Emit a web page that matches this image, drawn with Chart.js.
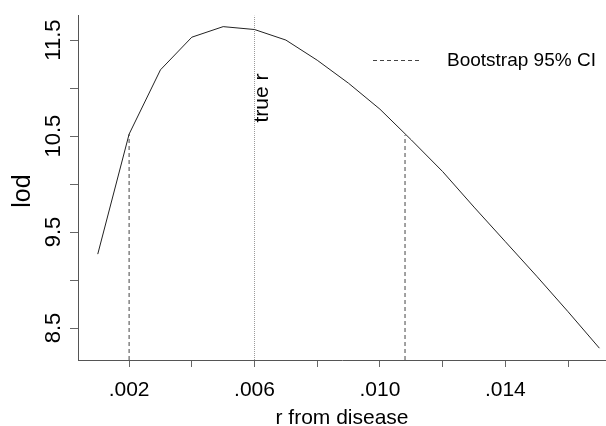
<!DOCTYPE html>
<html>
<head>
<meta charset="utf-8">
<script src="https://cdn.jsdelivr.net/npm/chart.js@4.4.0/dist/chart.umd.min.js"></script>
<style>
  html, body { margin: 0; padding: 0; background: #fff; }
  #wrap { width: 606px; height: 426px; }
</style>
</head>
<body>
<div id="wrap"><canvas id="grafico" width="606" height="426"></canvas></div>
<script>
const fonte = '"Liberation Sans", Arial, Helvetica, sans-serif';

// curva de lod
const rValores = [0.001, 0.002, 0.003, 0.004, 0.005, 0.006, 0.007, 0.008, 0.009,
                  0.010, 0.011, 0.012, 0.013, 0.014, 0.015, 0.016, 0.017];
const lodValores = [9.27, 10.52, 11.19, 11.53, 11.64, 11.61, 11.50, 11.29, 11.05,
                    10.78, 10.46, 10.13, 9.76, 9.40, 9.04, 8.67, 8.29];

// eixos
const xLimites = [0.00037, 0.01721];
const yLimites = [8.167, 11.755];
const xTicks = [0.002, 0.004, 0.006, 0.008, 0.010, 0.012, 0.014, 0.016];
const xRotulos = [0.002, 0.006, 0.010, 0.014];
const yTicks = [8.5, 9.0, 9.5, 10.0, 10.5, 11.0, 11.5];
const yRotulos = [8.5, 9.5, 10.5, 11.5];

// marcadores
const trueR = 0.006;
const ciLimites = [0.002, 0.0108];
const ciTopo = [10.52, 10.51];

const mesmo = (a, b) => Math.abs(a - b) < 1e-9;
const fmtR = (v) => v.toFixed(3).replace(/^0/, "");

const linhaCI = (i) => ({
  data: [{ x: ciLimites[i], y: yLimites[0] }, { x: ciLimites[i], y: ciTopo[i] }],
  borderColor: "#444",
  borderWidth: 1,
  borderDash: [4, 3],
  pointRadius: 0,
});

const textoGirado = (ctx, texto, x, y) => {
  ctx.save();
  ctx.translate(x, y);
  ctx.rotate(-Math.PI / 2);
  ctx.fillText(texto, 0, 0);
  ctx.restore();
};

const rotulosPlugin = {
  id: "rotulos",
  afterDraw(chart) {
    const { ctx, scales: { x, y } } = chart;
    ctx.save();
    ctx.fillStyle = "#000";
    ctx.textBaseline = "alphabetic";
    ctx.textAlign = "center";

    // rótulos do eixo y, girados
    ctx.font = "22px " + fonte;
    yRotulos.forEach((v) => textoGirado(ctx, v.toFixed(1), y.right - 18, y.getPixelForValue(v)));

    // título do eixo y
    ctx.font = "25px " + fonte;
    textoGirado(ctx, "lod", 30, 191);

    // true r
    ctx.font = "21px " + fonte;
    textoGirado(ctx, "true r", x.getPixelForValue(trueR) + 13, 98);

    // legenda
    ctx.strokeStyle = "#444";
    ctx.lineWidth = 1;
    ctx.setLineDash([4, 3]);
    ctx.beginPath();
    ctx.moveTo(373, 60.5);
    ctx.lineTo(422, 60.5);
    ctx.stroke();
    ctx.setLineDash([]);
    ctx.font = "19px " + fonte;
    ctx.textAlign = "left";
    ctx.fillText("Bootstrap 95% CI", 447, 66);
    ctx.restore();
  },
};

new Chart(document.getElementById("grafico"), {
  type: "line",
  data: {
    datasets: [
      {
        data: rValores.map((r, i) => ({ x: r, y: lodValores[i] })),
        borderColor: "#222",
        borderWidth: 1,
        pointRadius: 0,
        tension: 0,
      },
      linhaCI(0),
      linhaCI(1),
      {
        data: [{ x: trueR, y: yLimites[0] }, { x: trueR, y: yLimites[1] }],
        borderColor: "#999",
        borderWidth: 1,
        borderDash: [1, 1],
        pointRadius: 0,
      },
    ],
  },
  options: {
    responsive: false,
    animation: false,
    layout: { padding: { top: 12, right: 0, left: 0, bottom: 0 } },
    plugins: { legend: { display: false }, tooltip: { enabled: false } },
    scales: {
      x: {
        type: "linear",
        min: xLimites[0],
        max: xLimites[1],
        afterBuildTicks: (s) => { s.ticks = xTicks.map((v) => ({ value: v })); },
        afterFit: (s) => { s.height = 66; },
        grid: { drawOnChartArea: false, drawTicks: true, tickLength: 7, color: "#666" },
        border: { color: "#555", width: 1 },
        ticks: {
          autoSkip: false,
          maxRotation: 0,
          padding: 11,
          color: "#000",
          font: { family: fonte, size: 21 },
          callback: (v) => (xRotulos.some((r) => mesmo(r, v)) ? fmtR(v) : ""),
        },
        title: {
          display: true,
          text: "r from disease",
          color: "#000",
          font: { family: fonte, size: 21, lineHeight: 0.72 },
          padding: { top: 0, bottom: 0 },
        },
      },
      y: {
        type: "linear",
        min: yLimites[0],
        max: yLimites[1],
        afterBuildTicks: (s) => { s.ticks = yTicks.map((v) => ({ value: v })); },
        afterFit: (s) => { s.width = 78; },
        grid: { drawOnChartArea: false, drawTicks: true, tickLength: 8, color: "#666" },
        border: { color: "#555", width: 1 },
        ticks: { color: "#000", font: { family: fonte, size: 21 }, callback: () => "" },
      },
    },
  },
  plugins: [rotulosPlugin],
});
</script>
</body>
</html>
